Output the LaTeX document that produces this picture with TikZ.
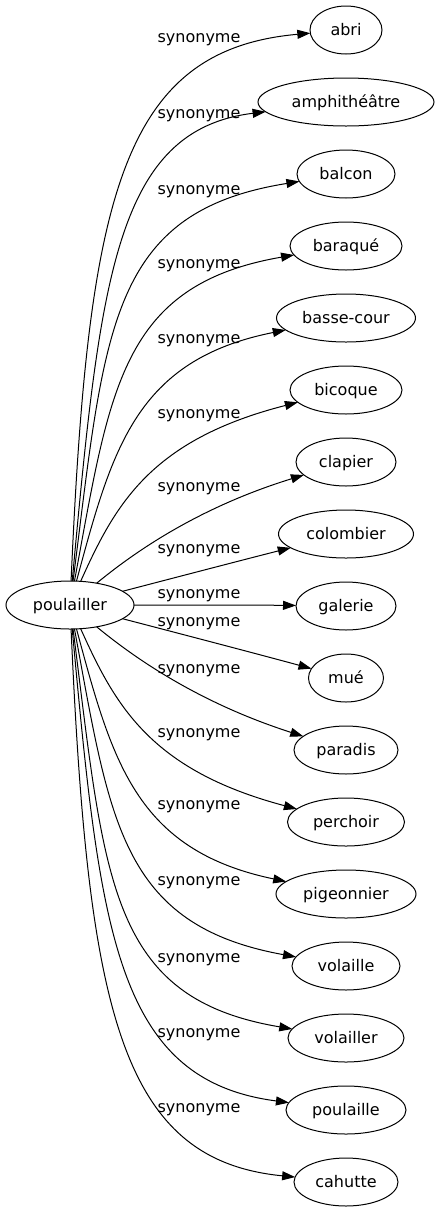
\documentclass[tikz,border=0pt]{standalone}
\usepackage{fontspec}
\setmainfont{DejaVu Sans}
\usetikzlibrary{positioning,shapes.geometric,arrows.meta}
\tikzstyle{HeadWord}=[ellipse, draw=black, line width=1pt, minimum height=48pt, inner sep=0pt, outer sep=0pt, text height=12pt, text depth=2pt, font=\fontsize{16}{19}\selectfont]
\tikzstyle{SynWord}=[HeadWord]
\tikzstyle{SynLabel}=[inner sep=0pt, text height=12pt, text depth=2pt, font=\fontsize{16}{19}\selectfont]
\tikzstyle{SynEdge}=[line width=1pt, -{Triangle[length=13pt, width=9pt]}]

\begin{document}
\begin{tikzpicture}[x=1pt, y=-1pt]
	\useasboundingbox (0,0) rectangle (439,1211);
	%Nodes
	\node[HeadWord, minimum width=128pt]	(poulailler)	at (70,605)	{poulailler};

	\node[SynWord, minimum width=72pt]	(abri)		at (346,30)			{abri};
	\node[SynWord, minimum width=176pt]	(amphitheatre)	[below=24pt of abri]		{amphithéâtre};
	\node[SynWord, minimum width=98pt]	(balcon)		[below=24pt of amphitheatre]	{balcon};
	\node[SynWord, minimum width=112pt]	(baraque)		[below=24pt of balcon]		{baraqué};
	\node[SynWord, minimum width=139pt]	(bassecour)	[below=24pt of baraque]		{basse-cour};
	\node[SynWord, minimum width=112pt]	(bicoque)		[below=24pt of bassecour]	{bicoque};
	\node[SynWord, minimum width=100pt]	(clapier)		[below=24pt of bicoque]		{clapier};
	\node[SynWord, minimum width=135pt]	(colombier)	[below=24pt of clapier]		{colombier};
	\node[SynWord, minimum width=100pt]	(galerie)		[below=24pt of colombier]	{galerie};
	\node[SynWord, minimum width=75pt]	(mue)		[below=24pt of galerie]		{mué};
	\node[SynWord, minimum width=104pt]	(paradis)		[below=24pt of mue]		{paradis};
	\node[SynWord, minimum width=117pt]	(perchoir)	[below=24pt of paradis]		{perchoir};
	\node[SynWord, minimum width=140pt]	(pigeonnier)	[below=24pt of perchoir]	{pigeonnier};
	\node[SynWord, minimum width=108pt]	(volaille)		[below=24pt of pigeonnier]	{volaille};
	\node[SynWord, minimum width=116pt]	(volailler)	[below=24pt of volaille]	{volailler};
	\node[SynWord, minimum width=120pt]	(poulaille)	[below=24pt of volailler]	{poulaille};
	\node[SynWord, minimum width=104pt]	(cahutte)		[below=24pt of poulaille]	{cahutte};

	%Edges
	\foreach \dst/\ax/\ay/\bx/\by/\ly in {abri/88/200/120/50/37, amphitheatre/100/280/115/130/113,
		balcon/105/330/108/212/189, baraque/110/390/120/285/263, bassecour/112/450/135/360/338,
		bicoque/115/505/150/440/413, clapier/125/560/190/510/486, colombier/162/581/254/557/548,
		galerie/162/605/254/605/593, mue/162/629/254/653/621, paradis/125/650/190/700/668,
		perchoir/115/705/150/770/732, pigeonnier/112/760/135/850/804, volaille/110/820/120/925/880,
		volailler/105/880/108/998/957, poulaille/100/930/115/1080/1032, cahutte/88/1010/120/1160/1107}{
		\draw[SynEdge] (poulailler) .. controls (\ax,\ay) and (\bx,\by) .. (\dst);
		\node[SynLabel] (lbl\dst) at (199,\ly) {synonyme};
	}
\end{tikzpicture}
\end{document}
